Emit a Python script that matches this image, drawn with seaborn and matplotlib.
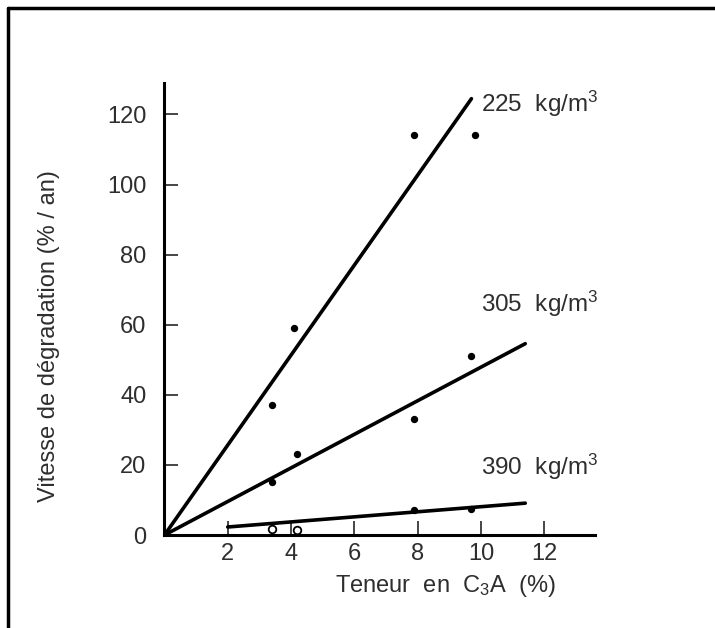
import matplotlib
matplotlib.use("Agg")
import matplotlib.pyplot as plt
import seaborn as sns
import pandas as pd
from matplotlib.lines import Line2D

# ---- data ----
series = ["225  kg/m$^{3}$", "305  kg/m$^{3}$", "390  kg/m$^{3}$"]
x_225 = [3.4, 4.1, 7.9, 9.8]
y_225 = [37, 59, 114, 114]
x_305 = [3.4, 4.2, 7.9, 9.7]
y_305 = [15, 23, 33, 51]
x_390 = [3.4, 4.2, 7.9, 9.7]
y_390 = [1.7, 1.4, 7.1, 7.4]
open_390 = [True, True, False, False]
fit_x_225 = [0, 9.7]
fit_y_225 = [0, 124.5]
fit_x_305 = [0, 11.4]
fit_y_305 = [0, 54.6]
fit_x_390 = [2, 11.4]
fit_y_390 = [2.3, 9.1]
label_x = [10.0, 10.0, 10.0]
label_y = [123, 66, 19.5]
x_ticks = [2, 4, 6, 8, 10, 12]
y_ticks = [0, 20, 40, 60, 80, 100, 120]

sns.set_theme(style="white")
plt.rcParams["font.family"] = ["Liberation Sans", "DejaVu Sans"]
plt.rcParams["mathtext.fontset"] = "custom"
plt.rcParams["mathtext.rm"] = "Liberation Sans"
plt.rcParams["mathtext.it"] = "Liberation Sans"
plt.rcParams["mathtext.bf"] = "Liberation Sans"

TXT = "#2e2e2e"

pts = pd.DataFrame({
    "x": x_225 + x_305 + x_390,
    "y": y_225 + y_305 + y_390,
    "open": [False] * 4 + [False] * 4 + open_390,
})
fits = pd.DataFrame({
    "x": fit_x_225 + fit_x_305 + fit_x_390,
    "y": fit_y_225 + fit_y_305 + fit_y_390,
    "s": [series[0]] * 2 + [series[1]] * 2 + [series[2]] * 2,
})

fig = plt.figure(figsize=(7.15, 6.28), dpi=100)
ax = fig.add_axes([0.23, 0.148, 0.602, 0.72])

sns.lineplot(data=fits, x="x", y="y", units="s", estimator=None,
             color="black", lw=2.6, ax=ax, legend=False)
filled = pts[~pts["open"]]
hollow = pts[pts["open"]]
sns.scatterplot(data=filled, x="x", y="y", color="black", s=28,
                edgecolor="black", linewidth=0, ax=ax, legend=False, zorder=5)
sns.scatterplot(data=hollow, x="x", y="y", facecolor="white", s=30,
                edgecolor="black", linewidth=1.3, ax=ax, legend=False, zorder=5)

for lab, lx, ly in zip(series, label_x, label_y):
    ax.text(lx, ly, lab, fontsize=17.5, color=TXT, va="center", ha="left",
            clip_on=False)

ax.set_xlim(0, 13.6)
ax.set_ylim(0, 129)
ax.set_xticks(x_ticks)
ax.set_yticks(y_ticks)
ax.tick_params(axis="x", direction="in", length=10, width=1.2, pad=6,
               labelsize=17, labelcolor=TXT, bottom=True)
ax.tick_params(axis="y", direction="in", length=10, width=1.2, pad=13,
               labelsize=17, labelcolor=TXT, left=True)
for s in ["top", "right"]:
    ax.spines[s].set_visible(False)
for s in ["left", "bottom"]:
    ax.spines[s].set_linewidth(2.2)
    ax.spines[s].set_color("black")

ax.set_xlabel("Teneur  en  C$_{3}$A  (%)", fontsize=17, color=TXT)
ax.xaxis.set_label_coords(0.652, -0.085)
ax.set_ylabel("Vitesse de dégradation (% / an)", fontsize=17, color=TXT)
ax.yaxis.set_label_coords(-0.242, 0.44)

# scanned frame (cut at right and bottom)
fig.add_artist(Line2D([8 / 715, 1.0], [1 - 8 / 628, 1 - 8 / 628],
                      transform=fig.transFigure, color="black", lw=2.5))
fig.add_artist(Line2D([8 / 715, 8 / 715], [0.0, 1 - 8 / 628],
                      transform=fig.transFigure, color="black", lw=2.5))

fig.savefig("out.png", dpi=100)
